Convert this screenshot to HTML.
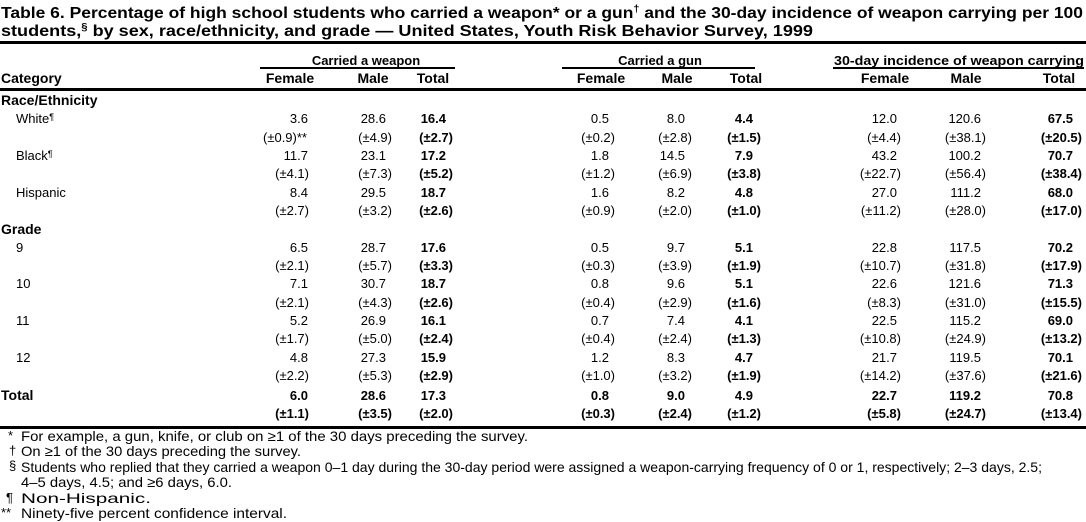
<!DOCTYPE html>
<html><head><meta charset="utf-8"><style>
html,body{margin:0;padding:0;background:#fff;}
svg{display:block;}
text{font-family:"Liberation Sans",sans-serif;font-size:13px;fill:#000;}
.b{font-weight:bold;}
.e{text-anchor:end;}
.m{text-anchor:middle;}
.t{font-size:16px;font-weight:bold;}
.h{font-size:14px;}
.f{font-size:14px;}
</style></head><body>
<svg width="1086" height="522" viewBox="0 0 1086 522" xmlns="http://www.w3.org/2000/svg">
<text class="t" x="1" y="18" textLength="1082" lengthAdjust="spacingAndGlyphs">Table 6. Percentage of high school students who carried a weapon* or a gun<tspan font-size="10" dy="-6">†</tspan><tspan dy="6"> and the 30-day incidence of weapon carrying per 100</tspan></text>
<text class="t" x="1" y="36" textLength="812" lengthAdjust="spacingAndGlyphs">students,<tspan font-size="10" dy="-6">§</tspan><tspan dy="6"> by sex, race/ethnicity, and grade — United States, Youth Risk Behavior Survey, 1999</tspan></text>
<rect x="0" y="41" width="1086" height="3"/>
<text class="b m" x="366" y="65">Carried a weapon</text>
<text class="b m" x="660" y="65">Carried a gun</text>
<text class="b m" x="959" y="65" textLength="250" lengthAdjust="spacingAndGlyphs">30-day incidence of weapon carrying</text>
<rect x="260" y="67" width="195" height="2"/>
<rect x="562" y="67" width="193" height="2"/>
<rect x="833" y="67" width="251" height="2"/>
<text class="b h" x="1" y="83">Category</text>
<g class="h">
<text class="b m h" x="290" y="83">Female</text><text class="b m h" x="373" y="83">Male</text><text class="b m h" x="433" y="83">Total</text>
<text class="b m h" x="601" y="83">Female</text><text class="b m h" x="677" y="83">Male</text><text class="b m h" x="746" y="83">Total</text>
<text class="b m h" x="885" y="83">Female</text><text class="b m h" x="966" y="83">Male</text><text class="b m h" x="1059" y="83">Total</text>
</g>
<rect x="0" y="88" width="1086" height="3"/>
<text class="b h" x="1" y="105">Race/Ethnicity</text>
<text class="b h" x="1" y="234">Grade</text>
<text class="b h" x="1" y="400">Total</text>
<rect x="0" y="426" width="1086" height="3"/>
<g>
<text x="8" y="440">*</text><text class="f" x="21" y="441" textLength="507" lengthAdjust="spacingAndGlyphs">For example, a gun, knife, or club on ≥1 of the 30 days preceding the survey.</text>
<text x="9" y="455">†</text><text class="f" x="21" y="456" textLength="280" lengthAdjust="spacingAndGlyphs">On ≥1 of the 30 days preceding the survey.</text>
<text x="9" y="470" font-size="10">§</text><text class="f" x="21" y="472" textLength="1021" lengthAdjust="spacingAndGlyphs">Students who replied that they carried a weapon 0–1 day during the 30-day period were assigned a weapon-carrying frequency of 0 or 1, respectively; 2–3 days, 2.5;</text>
<text class="f" x="21" y="487" textLength="211" lengthAdjust="spacingAndGlyphs">4–5 days, 4.5; and ≥6 days, 6.0.</text>
<text x="6" y="502">¶</text><text class="f" x="21" y="503" textLength="130" lengthAdjust="spacingAndGlyphs">Non-Hispanic.</text>
<text x="1" y="517">**</text><text class="f" x="21" y="518" textLength="266" lengthAdjust="spacingAndGlyphs">Ninety-five percent confidence interval.</text>
</g>
<g>
<text x="16" y="123">White<tspan font-size="9" dy="-3">¶</tspan></text>
<text x="16" y="160">Black<tspan font-size="9" dy="-3">¶</tspan></text>
<text x="16" y="197">Hispanic</text>
<text x="16" y="252">9</text>
<text x="16" y="288">10</text>
<text x="16" y="325">11</text>
<text x="16" y="362">12</text>
</g>
<g>
<text class="e" x="308" y="123">3.6</text><text class="e" x="386" y="123">28.6</text><text class="e b" x="446" y="123">16.4</text>
<text class="e" x="609" y="123">0.5</text><text class="e" x="685" y="123">8.0</text><text class="e b" x="753" y="123">4.4</text>
<text class="e" x="897" y="123">12.0</text><text class="e" x="981" y="123">120.6</text><text class="e b" x="1073" y="123">67.5</text>
<text x="263" y="142">(±0.9)**</text><text class="e" x="392" y="142">(±4.9)</text><text class="e b" x="453" y="142">(±2.7)</text>
<text class="e" x="615" y="142">(±0.2)</text><text class="e" x="692" y="142">(±2.8)</text><text class="e b" x="761" y="142">(±1.5)</text>
<text class="e" x="901" y="142">(±4.4)</text><text class="e" x="986" y="142">(±38.1)</text><text class="e b" x="1082" y="142">(±20.5)</text>
<text class="e" x="308" y="160">11.7</text><text class="e" x="386" y="160">23.1</text><text class="e b" x="446" y="160">17.2</text>
<text class="e" x="609" y="160">1.8</text><text class="e" x="685" y="160">14.5</text><text class="e b" x="753" y="160">7.9</text>
<text class="e" x="897" y="160">43.2</text><text class="e" x="981" y="160">100.2</text><text class="e b" x="1073" y="160">70.7</text>
<text class="e" x="309" y="178">(±4.1)</text><text class="e" x="392" y="178">(±7.3)</text><text class="e b" x="453" y="178">(±5.2)</text>
<text class="e" x="615" y="178">(±1.2)</text><text class="e" x="692" y="178">(±6.9)</text><text class="e b" x="761" y="178">(±3.8)</text>
<text class="e" x="901" y="178">(±22.7)</text><text class="e" x="986" y="178">(±56.4)</text><text class="e b" x="1082" y="178">(±38.4)</text>
<text class="e" x="308" y="197">8.4</text><text class="e" x="386" y="197">29.5</text><text class="e b" x="446" y="197">18.7</text>
<text class="e" x="609" y="197">1.6</text><text class="e" x="685" y="197">8.2</text><text class="e b" x="753" y="197">4.8</text>
<text class="e" x="897" y="197">27.0</text><text class="e" x="981" y="197">111.2</text><text class="e b" x="1073" y="197">68.0</text>
<text class="e" x="309" y="215">(±2.7)</text><text class="e" x="392" y="215">(±3.2)</text><text class="e b" x="453" y="215">(±2.6)</text>
<text class="e" x="615" y="215">(±0.9)</text><text class="e" x="692" y="215">(±2.0)</text><text class="e b" x="761" y="215">(±1.0)</text>
<text class="e" x="901" y="215">(±11.2)</text><text class="e" x="986" y="215">(±28.0)</text><text class="e b" x="1082" y="215">(±17.0)</text>
<text class="e" x="308" y="252">6.5</text><text class="e" x="386" y="252">28.7</text><text class="e b" x="446" y="252">17.6</text>
<text class="e" x="609" y="252">0.5</text><text class="e" x="685" y="252">9.7</text><text class="e b" x="753" y="252">5.1</text>
<text class="e" x="897" y="252">22.8</text><text class="e" x="981" y="252">117.5</text><text class="e b" x="1073" y="252">70.2</text>
<text class="e" x="309" y="270">(±2.1)</text><text class="e" x="392" y="270">(±5.7)</text><text class="e b" x="453" y="270">(±3.3)</text>
<text class="e" x="615" y="270">(±0.3)</text><text class="e" x="692" y="270">(±3.9)</text><text class="e b" x="761" y="270">(±1.9)</text>
<text class="e" x="901" y="270">(±10.7)</text><text class="e" x="986" y="270">(±31.8)</text><text class="e b" x="1082" y="270">(±17.9)</text>
<text class="e" x="308" y="288">7.1</text><text class="e" x="386" y="288">30.7</text><text class="e b" x="446" y="288">18.7</text>
<text class="e" x="609" y="288">0.8</text><text class="e" x="685" y="288">9.6</text><text class="e b" x="753" y="288">5.1</text>
<text class="e" x="897" y="288">22.6</text><text class="e" x="981" y="288">121.6</text><text class="e b" x="1073" y="288">71.3</text>
<text class="e" x="309" y="307">(±2.1)</text><text class="e" x="392" y="307">(±4.3)</text><text class="e b" x="453" y="307">(±2.6)</text>
<text class="e" x="615" y="307">(±0.4)</text><text class="e" x="692" y="307">(±2.9)</text><text class="e b" x="761" y="307">(±1.6)</text>
<text class="e" x="901" y="307">(±8.3)</text><text class="e" x="986" y="307">(±31.0)</text><text class="e b" x="1082" y="307">(±15.5)</text>
<text class="e" x="308" y="325">5.2</text><text class="e" x="386" y="325">26.9</text><text class="e b" x="446" y="325">16.1</text>
<text class="e" x="609" y="325">0.7</text><text class="e" x="685" y="325">7.4</text><text class="e b" x="753" y="325">4.1</text>
<text class="e" x="897" y="325">22.5</text><text class="e" x="981" y="325">115.2</text><text class="e b" x="1073" y="325">69.0</text>
<text class="e" x="309" y="343">(±1.7)</text><text class="e" x="392" y="343">(±5.0)</text><text class="e b" x="453" y="343">(±2.4)</text>
<text class="e" x="615" y="343">(±0.4)</text><text class="e" x="692" y="343">(±2.4)</text><text class="e b" x="761" y="343">(±1.3)</text>
<text class="e" x="901" y="343">(±10.8)</text><text class="e" x="986" y="343">(±24.9)</text><text class="e b" x="1082" y="343">(±13.2)</text>
<text class="e" x="308" y="362">4.8</text><text class="e" x="386" y="362">27.3</text><text class="e b" x="446" y="362">15.9</text>
<text class="e" x="609" y="362">1.2</text><text class="e" x="685" y="362">8.3</text><text class="e b" x="753" y="362">4.7</text>
<text class="e" x="897" y="362">21.7</text><text class="e" x="981" y="362">119.5</text><text class="e b" x="1073" y="362">70.1</text>
<text class="e" x="309" y="380">(±2.2)</text><text class="e" x="392" y="380">(±5.3)</text><text class="e b" x="453" y="380">(±2.9)</text>
<text class="e" x="615" y="380">(±1.0)</text><text class="e" x="692" y="380">(±3.2)</text><text class="e b" x="761" y="380">(±1.9)</text>
<text class="e" x="901" y="380">(±14.2)</text><text class="e" x="986" y="380">(±37.6)</text><text class="e b" x="1082" y="380">(±21.6)</text>
<text class="e b" x="308" y="400">6.0</text><text class="e b" x="386" y="400">28.6</text><text class="e b" x="446" y="400">17.3</text>
<text class="e b" x="609" y="400">0.8</text><text class="e b" x="685" y="400">9.0</text><text class="e b" x="753" y="400">4.9</text>
<text class="e b" x="897" y="400">22.7</text><text class="e b" x="981" y="400">119.2</text><text class="e b" x="1073" y="400">70.8</text>
<text class="e b" x="309" y="418">(±1.1)</text><text class="e b" x="392" y="418">(±3.5)</text><text class="e b" x="453" y="418">(±2.0)</text>
<text class="e b" x="615" y="418">(±0.3)</text><text class="e b" x="692" y="418">(±2.4)</text><text class="e b" x="761" y="418">(±1.2)</text>
<text class="e b" x="901" y="418">(±5.8)</text><text class="e b" x="986" y="418">(±24.7)</text><text class="e b" x="1082" y="418">(±13.4)</text>
</g>
</svg>
</body></html>
